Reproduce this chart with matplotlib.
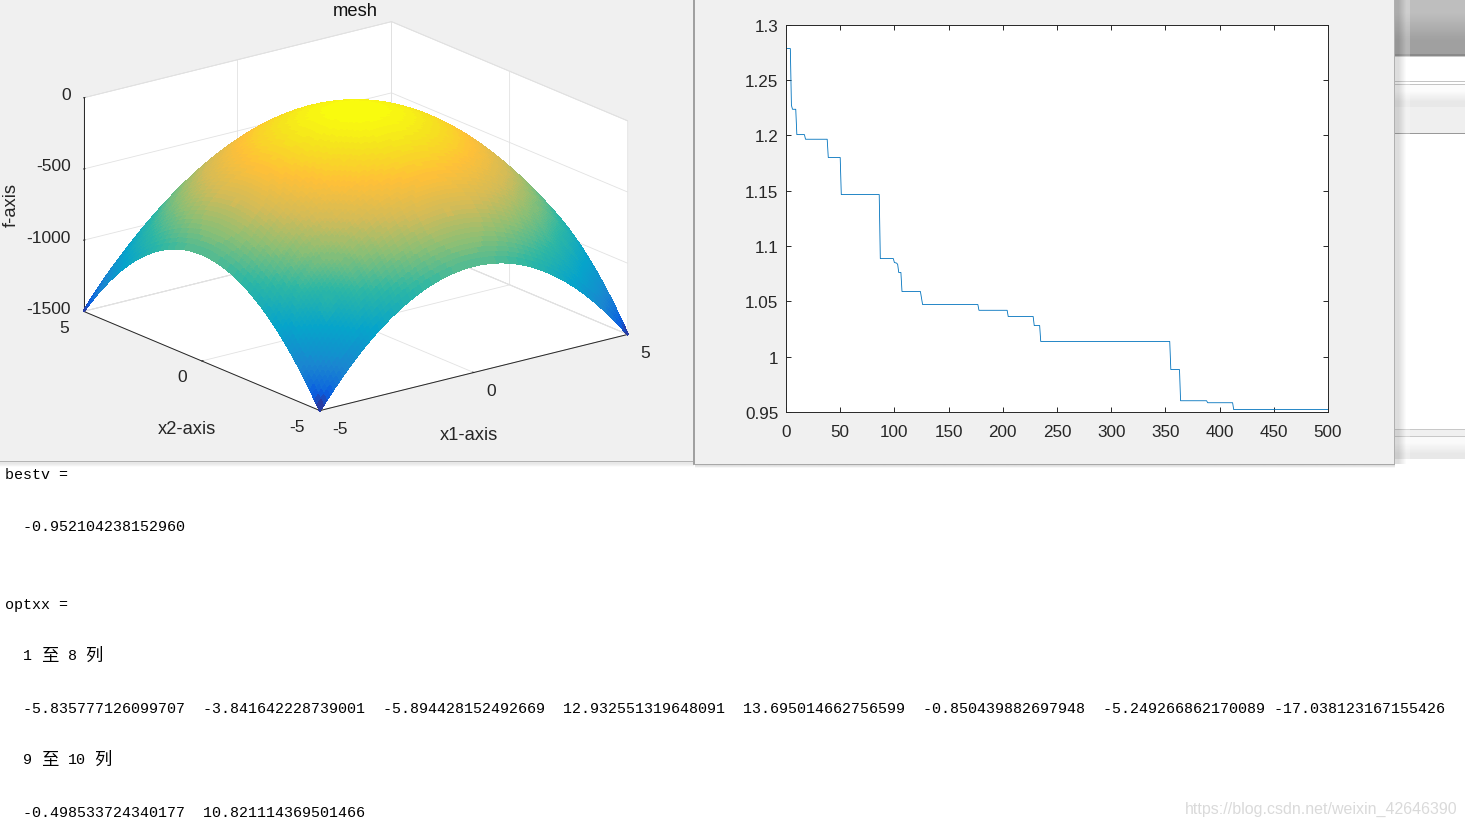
import numpy as np
import matplotlib
matplotlib.use('Agg')
import matplotlib.pyplot as plt
from matplotlib.colors import LinearSegmentedColormap, Normalize
from matplotlib.patches import Rectangle
from mpl_toolkits.mplot3d import proj3d

W, H = 1465, 828

# best value per iteration, corners of the stair line
iters = [0, 4, 5, 6, 9, 10, 17, 18, 38, 39, 50, 51, 86, 87, 99, 100, 102, 103, 104, 106, 107,
         124, 126, 177, 178, 204, 205, 228, 229, 234, 235, 354, 355, 363, 364, 388, 389, 412, 413, 500]
best = [1.2785, 1.2785, 1.2272, 1.2236, 1.2236, 1.2007, 1.2007, 1.1965, 1.1965, 1.18, 1.18, 1.1465,
        1.1465, 1.0886, 1.0886, 1.085, 1.0845, 1.0834, 1.076, 1.076, 1.0588, 1.0588, 1.047, 1.047,
        1.0418, 1.0418, 1.0362, 1.0362, 1.028, 1.028, 1.0136, 1.0136, 0.9882, 0.9882, 0.96, 0.96,
        0.9582, 0.9582, 0.952, 0.952]
line_xticks = [0, 50, 100, 150, 200, 250, 300, 350, 400, 450, 500]
line_yticks = [0.95, 1, 1.05, 1.1, 1.15, 1.2, 1.25, 1.3]
line_ylabels = ['0.95', '1', '1.05', '1.1', '1.15', '1.2', '1.25', '1.3']

# surface: f(x1, x2) = p(x1) + p(x2), p read at steps of 0.1 from -5 to 0
grid_half = [-5, -4.9, -4.8, -4.7, -4.6, -4.5, -4.4, -4.3, -4.2, -4.1, -4, -3.9, -3.8, -3.7, -3.6,
             -3.5, -3.4, -3.3, -3.2, -3.1, -3, -2.9, -2.8, -2.7, -2.6, -2.5, -2.4, -2.3, -2.2, -2.1,
             -2, -1.9, -1.8, -1.7, -1.6, -1.5, -1.4, -1.3, -1.2, -1.1, -1, -0.9, -0.8, -0.7, -0.6,
             -0.5, -0.4, -0.3, -0.2, -0.1, 0]
profile_half = [-750, -720.3, -691.2, -662.7, -634.8, -607.5, -580.8, -554.7, -529.2, -504.3, -480,
                -456.3, -433.2, -410.7, -388.8, -367.5, -346.8, -326.7, -307.2, -288.3, -270, -252.3,
                -235.2, -218.7, -202.8, -187.5, -172.8, -158.7, -145.2, -132.3, -120, -108.3, -97.2,
                -86.7, -76.8, -67.5, -58.8, -50.7, -43.2, -36.3, -30, -24.3, -19.2, -14.7, -10.8,
                -7.5, -4.8, -2.7, -1.2, -0.3, 0]
xy_ticks = [-5, 0, 5]
z_ticks = [-1500, -1000, -500, 0]

parula_colors = [(0, '#352A87'), (0.05, '#0A5FE0'), (0.15, '#1A85D0'), (0.3, '#06A4CA'),
                 (0.45, '#2EB7A4'), (0.58, '#87BF77'), (0.7, '#D1BB59'), (0.83, '#FFC038'),
                 (0.93, '#F5E21F'), (1, '#F9FB0E')]

console_lines = [(475, 'bestv ='), (527, '  -0.952104238152960'), (605, 'optxx ='),
                 (709, '  -5.835777126099707  -3.841642228739001  -5.894428152492669  12.932551319648091'
                       '  13.695014662756599  -0.850439882697948  -5.249266862170089 -17.038123167155426'),
                 (813, '  -0.498533724340177  10.821114369501466')]
column_rows = [(656, '1', '8', 68, 85), (760, '9', '10', 68, 94)]

TXT = '#262626'
plt.rcParams['font.family'] = ['Liberation Sans', 'DejaVu Sans']
plt.rcParams['axes.edgecolor'] = TXT
plt.rcParams['axes.linewidth'] = 0.7
plt.rcParams['grid.color'] = '#E2E2E2'
plt.rcParams['grid.linewidth'] = 0.6
plt.rcParams['xtick.color'] = TXT
plt.rcParams['ytick.color'] = TXT

fig = plt.figure(figsize=(W / 100, H / 100), dpi=100, facecolor='white')

# screenshot background, in pixels
bg = fig.add_axes([0, 0, 1, 1])
bg.set_xlim(0, W)
bg.set_ylim(H, 0)
bg.axis('off')


def rect(x0, y0, x1, y1, color, z=1):
    bg.add_patch(Rectangle((x0, y0), x1 - x0, y1 - y0, facecolor=color, edgecolor='none', zorder=z))


def gradient(x0, y0, x1, y1, c0, c1, horizontal=False, z=1):
    vals = np.array([[c0], [c1]], dtype=float)
    if horizontal:
        vals = vals.T
    bg.imshow(vals, cmap='gray', vmin=0, vmax=255, extent=(x0, x1, y1, y0), aspect='auto',
              interpolation='bilinear', zorder=z)


gradient(1395, 0, W, 55, 190, 160)
rect(1395, 55, W, 57, '#8A8A8A')
rect(1395, 57, W, 58, '#C8C8C8')
rect(1395, 82, W, 83, '#C4C4C4')
rect(1395, 85, W, 86, '#C4C4C4')
gradient(1395, 86, W, 108, 252, 232)
rect(1395, 108, W, 134, '#EFEFEF')
rect(1395, 134, W, 135, '#999999')
rect(1395, 430, W, 431, '#C8C8C8')
rect(1395, 431, W, 437, '#F0F0F0')
rect(1395, 437, W, 438, '#C8C8C8')
gradient(1395, 438, W, 460, 250, 232)
gradient(1395, 0, 1410, 465, 120, 255, horizontal=True, z=2)
bg.images[-1].set_alpha(0.25)

rect(0, 0, 694, 462, '#F0F0F0', 3)
rect(0, 461.5, 694, 463, '#B4B4B4', 3)
gradient(0, 463, 694, 470, 232, 255, z=3)
rect(693, 0, 695, 466, '#A0A0A0', 4)
rect(695, 0, 1395, 465, '#F0F0F0', 4)
rect(1394, 0, 1395, 465, '#B0B0B0', 4)
rect(693, 465, 1395, 466, '#A8A8A8', 4)
gradient(695, 466, 1395, 470, 215, 255, z=3)
bg.images[-1].set_alpha(0.8)

# convergence line
ax2 = fig.add_axes([786 / W, 1 - 412.8 / H, 542 / W, 387 / H])
ax2.plot(iters, best, color='#0072BD', lw=0.6)
ax2.set_xlim(0, 500)
ax2.set_ylim(0.95, 1.3)
ax2.set_xticks(line_xticks)
ax2.set_yticks(line_yticks, line_ylabels)
ax2.tick_params(direction='in', top=True, right=True, length=3.8, width=0.7, labelsize=12.3, pad=5.5,
                labelcolor=TXT)
ax2.tick_params(axis='x', pad=9)

# mesh surface
S = 576
ax = fig.add_axes([59.9 / W, 1 - (-63.1 + S) / H, S / W, S / H], projection='3d', proj_type='ortho')
ax.patch.set_visible(False)
ax.view_init(elev=18.8, azim=-127.5)
ax.set_box_aspect((387, 387, 225))

x = np.array(grid_half + [-g for g in grid_half[-2::-1]])
p = np.array(profile_half + profile_half[-2::-1])
X, Y = np.meshgrid(x, x)
Z = p[:, None] + p[None, :]
cmap = LinearSegmentedColormap.from_list('parula_like', parula_colors, N=64)
surf = ax.plot_surface(X, Y, Z, cmap=cmap, vmin=-1500, vmax=0, rstride=1, cstride=1, linewidth=0.9,
                       antialiased=False, shade=False)
# edges take the colour of their facet so no gaps show between facets
surf.set_edgecolor(cmap(Normalize(-1500, 0)(surf.get_array())))
ax.set_xlim(-5, 5)
ax.set_ylim(-5, 5)
ax.set_zlim(-1500, 0)
ax.set_xticks(xy_ticks)
ax.set_yticks(xy_ticks)
ax.set_zticks(z_ticks)
ax.set_xticklabels([])
ax.set_yticklabels([])
ax.set_zticklabels([])
for axis in (ax.xaxis, ax.yaxis, ax.zaxis):
    axis.set_pane_color('white')
    axis.pane.set_edgecolor('#DADADA')
    axis.pane.set_linewidth(0.6)
    axis._axinfo['tick']['inward_factor'] = 0.0
    axis._axinfo['tick']['outward_factor'] = 0.05
    axis._axinfo['tick']['linewidth'] = {True: 0.7, False: 0.7}

ax.apply_aspect()


def to_px(xv, yv, zv):
    xp, yp, _ = proj3d.proj_transform(xv, yv, zv, ax.get_proj())
    dx, dy = ax.transData.transform((xp, yp))
    return dx, H - dy


for t in xy_ticks:
    px, py = to_px(t, -5, -1500)
    bg.text(px + 12.5, py + 18, str(t), ha='left', va='center', fontsize=12.5, color=TXT, zorder=6)
    px, py = to_px(-5, t, -1500)
    bg.text(px - 15, py + 16, str(t), ha='right', va='center', fontsize=12.5, color=TXT, zorder=6)
for t in z_ticks:
    px, py = to_px(-5, 5, t)
    bg.text(px - 13, py - 3, str(t), ha='right', va='center', fontsize=12.5, color=TXT, zorder=6)

bg.text(355.5, 11.5, 'mesh', ha='center', va='center', fontsize=13.2, color='#111111', zorder=6)
bg.text(468.5, 435.5, 'x1-axis', ha='center', va='center', fontsize=13.2, color=TXT, zorder=6)
bg.text(187, 429.5, 'x2-axis', ha='center', va='center', fontsize=13.2, color=TXT, zorder=6)
bg.text(11, 205, 'f-axis', ha='center', va='center', rotation=90, fontsize=13.2, color=TXT, zorder=6)

# command window text
for y, s in console_lines:
    bg.text(5, y, s, family='Liberation Mono', fontsize=10.8, ha='left', va='center', color='black', zorder=6)
for y, a, b, xb, xc in column_rows:
    bg.text(23, y, a, family='Liberation Mono', fontsize=10.8, ha='left', va='center', color='black', zorder=6)
    bg.text(41, y, '至', family='Noto Sans CJK SC', fontsize=12.5, ha='left', va='center', color='black', zorder=6)
    bg.text(xb, y, b, family='Liberation Mono', fontsize=10.8, ha='left', va='center', color='black', zorder=6)
    bg.text(xc, y, '列', family='Noto Sans CJK SC', fontsize=12.5, ha='left', va='center', color='black', zorder=6)
bg.text(1457, 809, 'https://blog.csdn.net/weixin_42646390', ha='right', va='center', fontsize=11.5,
        color='#DADADA', zorder=6)

bg.set_xlim(0, W)
bg.set_ylim(H, 0)
fig.savefig('out.png', dpi=100)
